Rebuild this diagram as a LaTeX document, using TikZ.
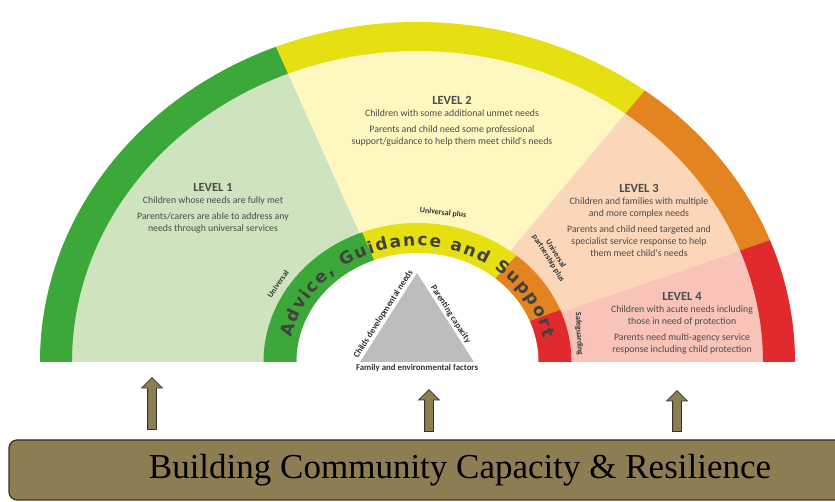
\documentclass[tikz,border=0pt]{standalone}
\usepackage{fontspec}
\setmainfont{Liberation Serif}
\newfontfamily\lblfont{Carlito}
\newfontfamily\ringfont{DejaVu Sans}
\usetikzlibrary{shapes.arrows,decorations.text}

\definecolor{ringgreen}{RGB}{61,168,58}
\definecolor{ringyellow}{RGB}{230,224,18}
\definecolor{ringorange}{RGB}{228,132,32}
\definecolor{ringred}{RGB}{224,42,45}
\definecolor{lvlone}{RGB}{205,228,190}
\definecolor{lvltwo}{RGB}{255,247,192}
\definecolor{lvlthree}{RGB}{251,214,184}
\definecolor{lvlfour}{RGB}{248,196,186}
\definecolor{trigray}{RGB}{189,189,189}
\definecolor{textgray}{RGB}{75,75,75}
\definecolor{basefill}{RGB}{140,126,82}
\definecolor{basedark}{RGB}{55,50,35}

\newcommand{\levelhead}{\bfseries\fontsize{12.5}{14}\selectfont}

\tikzset{
  leveltext/.style={font=\lblfont\fontsize{9.8}{12}\selectfont, text=textgray, align=center, inner sep=0pt},
  ringlabel/.style={font=\lblfont\bfseries\fontsize{8}{8.5}\selectfont, text=black!80, align=center, inner sep=1pt},
  trilabel/.style={font=\lblfont\bfseries\fontsize{8.8}{9}\selectfont, text=black!80, inner sep=2pt},
  uparrow/.style={single arrow, draw=basedark, fill=basefill, line width=0.8pt, rotate=90,
    inner sep=4pt, single arrow head extend=6pt, minimum width=20pt},
  basebox/.style={draw=basedark, fill=basefill, line width=1.2pt, rounded corners=8pt,
    minimum width=902pt, minimum height=60pt, font=\fontsize{35}{38}\selectfont},
}

\begin{document}
\begin{tikzpicture}[x=1pt,y=1pt]
  \useasboundingbox (0,0) rectangle (835,502);
  \clip (0,0) rectangle (835,502);
  \begin{scope}[shift={(417.5,140)}]
    % light sectors
    \fill[lvlone] (0,0) -- (180:377.5 and 340) arc[start angle=180,end angle=112,x radius=377.5,y radius=340] -- cycle;
    \fill[lvltwo] (0,0) -- (112:377.5 and 340) arc[start angle=112,end angle=53,x radius=377.5,y radius=340] -- cycle;
    \fill[lvlthree] (0,0) -- (53:377.5 and 340) arc[start angle=53,end angle=21,x radius=377.5,y radius=340] -- cycle;
    \fill[lvlfour] (0,0) -- (21:377.5 and 340) arc[start angle=21,end angle=0,x radius=377.5,y radius=340] -- cycle;
    % outer ring
    \fill[ringgreen] (180:377.5 and 340) arc[start angle=180,end angle=112,x radius=377.5,y radius=340]
      -- (112:345.5 and 311) arc[start angle=112,end angle=180,x radius=345.5,y radius=311] -- cycle;
    \fill[ringyellow] (112:377.5 and 340) arc[start angle=112,end angle=53,x radius=377.5,y radius=340]
      -- (53:345.5 and 311) arc[start angle=53,end angle=112,x radius=345.5,y radius=311] -- cycle;
    \fill[ringorange] (53:377.5 and 340) arc[start angle=53,end angle=21,x radius=377.5,y radius=340]
      -- (21:345.5 and 311) arc[start angle=21,end angle=53,x radius=345.5,y radius=311] -- cycle;
    \fill[ringred] (21:377.5 and 340) arc[start angle=21,end angle=0,x radius=377.5,y radius=340]
      -- (0:345.5 and 311) arc[start angle=0,end angle=21,x radius=345.5,y radius=311] -- cycle;
    % inner ring
    \fill[ringgreen] (0,0) -- (180:154 and 139) arc[start angle=180,end angle=111,x radius=154,y radius=139] -- cycle;
    \fill[ringyellow] (0,0) -- (111:154 and 139) arc[start angle=111,end angle=50,x radius=154,y radius=139] -- cycle;
    \fill[ringorange] (0,0) -- (50:154 and 139) arc[start angle=50,end angle=22,x radius=154,y radius=139] -- cycle;
    \fill[ringred] (0,0) -- (22:154 and 139) arc[start angle=22,end angle=0,x radius=154,y radius=139] -- cycle;
    \fill[white] (0:121 and 109) arc[start angle=0,end angle=180,x radius=121,y radius=109] -- cycle;
    % text round the inner ring
    \path[decorate, decoration={text along path, text color=black!75,
        text={|\ringfont\bfseries\fontsize{17}{17}\selectfont|Advice, Guidance and Support},
        text align={fit to path}}]
      (168:129 and 116) arc[start angle=168,end angle=12,x radius=129,y radius=116];
  \end{scope}

  % triangle
  \coordinate (tl) at (360,140);
  \coordinate (tr) at (474,140);
  \coordinate (tt) at (417,229);
  \fill[trigray] (tl) -- (tr) -- (tt) -- cycle;
  \path (tl) -- node[trilabel, sloped, above] {Childs developmental needs} (tt);
  \path (tt) -- node[trilabel, sloped, above] {Parenting capacity} (tr);
  \path (tl) -- node[trilabel, below] {Family and environmental factors} (tr);

  % level texts
  \node[leveltext] (lvlA) at (213,294) {{\levelhead LEVEL 1}\\ Children whose needs are fully met\\[4pt]
    Parents/carers are able to address any\\ needs through universal services};
  \node[leveltext] (lvlB) at (452,381) {{\levelhead LEVEL 2}\\ Children with some additional unmet needs\\[4pt]
    Parents and child need some professional\\ support/guidance to help them meet child's needs};
  \node[leveltext] (lvlC) at (639,282) {{\levelhead LEVEL 3}\\ Children and families with multiple\\ and more complex needs\\[4pt]
    Parents and child need targeted and\\ specialist service response to help\\ them meet child's needs};
  \node[leveltext] (lvlD) at (682,179) {{\levelhead LEVEL 4}\\ Children with acute needs including\\ those in need of protection\\[4pt]
    Parents need multi-agency service\\ response including child protection};

  % ring labels
  \node[ringlabel, rotate=55] (univ) at (278,218) {Universal};
  \node[ringlabel, rotate=-6] (univplus) at (443,289) {Universal plus};
  \node[ringlabel, rotate=-58] (partplus) at (552,246) {Universal\\partnership plus};
  \node[ringlabel, rotate=-87] (safe) at (579,168) {Safeguarding};

  % base and arrows
  \node[basebox] (base) at (460,32) {Building Community Capacity \& Resilience};
  \node[uparrow, minimum height=52pt, anchor=tail] (arrA) at (152,72) {};
  \node[uparrow, minimum height=42pt, anchor=tail] (arrB) at (429,70) {};
  \node[uparrow, minimum height=41pt, anchor=tail] (arrC) at (677,70) {};
\end{tikzpicture}
\end{document}
